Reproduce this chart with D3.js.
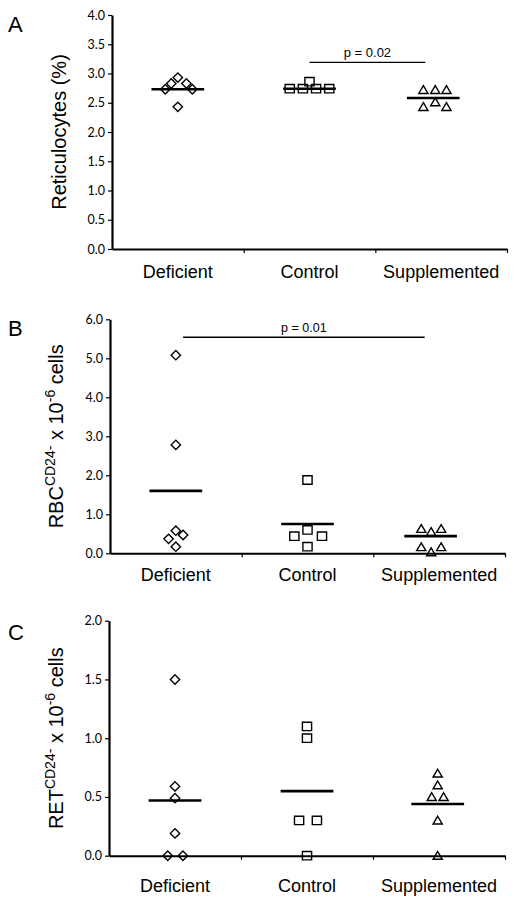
<!DOCTYPE html>
<html>
<head>
<meta charset="utf-8">
<script src="https://cdn.jsdelivr.net/npm/d3@7"></script>
<style>
  html, body { margin: 0; padding: 0; background: #fff; }
  svg { display: block; }
</style>
</head>
<body>
<svg id="chart" width="517" height="906"></svg>
<script>
// ---------------- DATA ----------------
const categories = ["Deficient", "Control", "Supplemented"];
const markerShapes = ["diamond", "square", "triangle"];

// Panel A: Reticulocytes (%)
const aTicks = [0, 0.5, 1.0, 1.5, 2.0, 2.5, 3.0, 3.5, 4.0];
const aDeficient = [2.73, 2.83, 2.93, 2.83, 2.73, 2.43];
const aDeficientX = [-0.095, -0.05, 0, 0.065, 0.11, 0];
const aControl = [2.74, 2.74, 2.86, 2.74, 2.74];
const aControlX = [-0.15, -0.05, 0, 0.05, 0.15];
const aSupplemented = [2.72, 2.72, 2.72, 2.43, 2.51, 2.43];
const aSupplementedX = [-0.135, -0.045, 0.04, -0.135, -0.045, 0.04];
const aMeans = [2.73, 2.74, 2.58];
const aMeansX = [0, 0, -0.06];
const aBracket = { from: 1.0, to: 1.88, value: 3.19, label: "p = 0.02" };

// Panel B: RBC CD24- x 10^-6 cells
const bTicks = [0, 1.0, 2.0, 3.0, 4.0, 5.0, 6.0];
const bDeficient = [5.08, 2.78, 0.58, 0.37, 0.47, 0.17];
const bDeficientX = [0, 0, 0, -0.055, 0.055, 0];
const bControl = [1.88, 0.6, 0.44, 0.44, 0.17];
const bControlX = [0, 0, -0.1, 0.11, 0];
const bSupplemented = [0.63, 0.55, 0.63, 0.16, 0.03, 0.16];
const bSupplementedX = [-0.136, -0.061, 0.015, -0.136, -0.061, 0.015];
const bMeans = [1.6, 0.75, 0.44];
const bMeansX = [0, 0, -0.065];
const bBracket = { from: 0.055, to: 1.89, value: 5.54, label: "p = 0.01" };

// Panel C: RET CD24- x 10^-6 cells
const cTicks = [0, 0.5, 1.0, 1.5, 2.0];
const cDeficient = [1.5, 0.59, 0.49, 0.19, 0, 0];
const cDeficientX = [0, 0, 0, 0, -0.055, 0.06];
const cControl = [1.1, 1.0, 0.3, 0.3, 0];
const cControlX = [0, 0, -0.06, 0.075, 0];
const cSupplemented = [0.7, 0.6, 0.5, 0.5, 0.3, 0];
const cSupplementedX = [-0.01, -0.01, -0.055, 0.035, -0.01, -0.01];
const cMeans = [0.47, 0.55, 0.44];
const cMeansX = [0, 0, -0.01];

// ---------------- LAYOUT ----------------
const panels = [
  { letter: "A", ticks: aTicks, max: 4.0, left: 112, right: 507, top: 15, bottom: 249,
    labelParts: [["Reticulocytes  (%)", 0]], labelX: 66, catBaseline: 278,
    groups: [[aDeficient, aDeficientX], [aControl, aControlX], [aSupplemented, aSupplementedX]],
    means: aMeans, meansX: aMeansX, bracket: aBracket, bracketFont: 13, letterY: 32 },
  { letter: "B", ticks: bTicks, max: 6.0, left: 110, right: 505, top: 319.3, bottom: 553.3,
    labelParts: [["RBC", 0], ["CD24-", 1], [" x 10", 0], ["-6", 1], [" cells", 0]], labelX: 63, catBaseline: 581,
    groups: [[bDeficient, bDeficientX], [bControl, bControlX], [bSupplemented, bSupplementedX]],
    means: bMeans, meansX: bMeansX, bracket: bBracket, bracketFont: 12.5, letterY: 336 },
  { letter: "C", ticks: cTicks, max: 2.0, left: 109, right: 505, top: 620.7, bottom: 855.7,
    labelParts: [["RET", 0], ["CD24-", 1], [" x 10", 0], ["-6", 1], [" cells", 0]], labelX: 63, catBaseline: 892,
    groups: [[cDeficient, cDeficientX], [cControl, cControlX], [cSupplemented, cSupplementedX]],
    means: cMeans, meansX: cMeansX, bracket: null, letterY: 640 }
];

const svg = d3.select("#chart");
const mainFont = "'Liberation Sans', Arial, sans-serif";
const tickFont = "Lato, 'Open Sans', sans-serif";

function markerPath(shape) {
  if (shape === "diamond") return "M0,-4.7L4.7,0L0,4.7L-4.7,0Z";
  if (shape === "square") return "M-4.6,-4.2H4.6V4.2H-4.6Z";
  return "M0,-4.2L4.6,3.6H-4.6Z";
}

panels.forEach(p => {
  const g = svg.append("g");
  const x = d3.scaleLinear().domain([-0.5, 2.5]).range([p.left, p.right]);
  const y = d3.scaleLinear().domain([0, p.max]).range([p.bottom, p.top]);

  // Y axis
  const yAxis = g.append("g")
    .attr("transform", `translate(${p.left},0)`)
    .call(d3.axisLeft(y).tickValues(p.ticks).tickSize(4).tickSizeOuter(0).tickFormat(d3.format(".1f")));
  yAxis.select(".domain").attr("stroke", "#000").attr("stroke-width", 2.2);
  yAxis.selectAll(".tick line").attr("stroke", "#000").attr("stroke-width", 1.2);
  yAxis.selectAll(".tick text").attr("font-family", tickFont).attr("font-size", 12.5)
    .attr("fill", "#000").attr("x", -7);

  // X axis (ticks at band boundaries)
  const xAxis = g.append("g")
    .attr("transform", `translate(0,${p.bottom})`)
    .call(d3.axisBottom(x).tickValues([0.5, 1.5, 2.5]).tickSize(4).tickSizeOuter(0).tickFormat(""));
  xAxis.select(".domain").attr("stroke", "#000").attr("stroke-width", 2);
  xAxis.selectAll(".tick line").attr("stroke", "#000").attr("stroke-width", 1.2);

  // Category labels
  g.selectAll("text.cat").data(categories).join("text")
    .attr("class", "cat")
    .attr("x", (d, i) => x(i))
    .attr("y", p.catBaseline)
    .attr("text-anchor", "middle")
    .attr("font-family", mainFont)
    .attr("font-size", 18)
    .attr("fill", "#000")
    .text(d => d);

  // Y label
  const lab = g.append("text")
    .attr("transform", `translate(${p.labelX},${(p.top + p.bottom) / 2}) rotate(-90)`)
    .attr("text-anchor", "middle")
    .attr("font-family", mainFont)
    .attr("font-size", 20)
    .attr("fill", "#000");
  let prevSup = 0;
  p.labelParts.forEach(([t, sup]) => {
    const dy = sup === prevSup ? 0 : (sup ? -8 : 8);
    lab.append("tspan").attr("font-size", sup ? 14 : 20).attr("dy", dy).text(t);
    prevSup = sup;
  });

  // Panel letter
  g.append("text").attr("x", 8).attr("y", p.letterY)
    .attr("font-family", mainFont).attr("font-size", 22).attr("fill", "#000").text(p.letter);

  // Mean lines
  g.selectAll("line.mean").data(p.means).join("line")
    .attr("class", "mean")
    .attr("x1", (d, i) => x(i + p.meansX[i] - 0.2))
    .attr("x2", (d, i) => x(i + p.meansX[i] + 0.2))
    .attr("y1", d => y(d)).attr("y2", d => y(d))
    .attr("stroke", "#000").attr("stroke-width", 2.6);

  // Points
  p.groups.forEach(([vals, offs], gi) => {
    g.selectAll(null).data(vals).join("path")
      .attr("transform", (d, i) => `translate(${x(gi + offs[i])},${y(d)})`)
      .attr("d", markerPath(markerShapes[gi]))
      .attr("fill", "none")
      .attr("stroke", "#000")
      .attr("stroke-width", 1.4);
  });

  // Significance bracket
  if (p.bracket) {
    const b = p.bracket;
    g.append("line")
      .attr("x1", x(b.from)).attr("x2", x(b.to))
      .attr("y1", y(b.value)).attr("y2", y(b.value))
      .attr("stroke", "#000").attr("stroke-width", 1.3);
    g.append("text")
      .attr("x", x((b.from + b.to) / 2))
      .attr("y", y(b.value) - 5)
      .attr("text-anchor", "middle")
      .attr("font-family", mainFont)
      .attr("font-size", p.bracketFont)
      .attr("fill", "#000")
      .text(b.label);
  }
});
</script>
</body>
</html>
